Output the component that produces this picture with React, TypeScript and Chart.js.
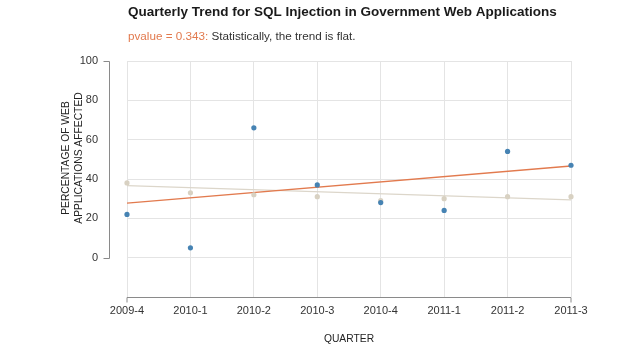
import React, { useEffect, useRef } from "react";
import { Chart, registerables } from "chart.js";

Chart.register(...registerables);

const quarters = ["2009-4", "2010-1", "2010-2", "2010-3", "2010-4", "2011-1", "2011-2", "2011-3"];
const governmentValues = [22, 5, 66, 37, 28, 24, 54, 47];
const overallValues = [38, 33, 32, 31, 29, 30, 31, 31];
const governmentTrend = [27.7, null, null, null, null, null, null, 46.6];
const overallTrend = [36.6, null, null, null, null, null, null, 29.4];
const yMin = -20;
const yMax = 100;
const yStep = 20;

const titleText = "Quarterly Trend for SQL Injection in Government Web Applications";
const pvalueText = "pvalue = 0.343:";
const subtitleText = " Statistically, the trend is flat.";
const yTitleLines = ["PERCENTAGE OF WEB", "APPLICATIONS AFFECTED"];
const xTitle = "QUARTER";

const FONT = "'Liberation Sans', Arial, Helvetica, sans-serif";
const BLUE = "#4683b3";
const BEIGE = "#d8d1c2";
const ORANGE = "#e27a4e";
const BEIGE_LINE = "#dcd6ca";
const AXIS = "#8a8a8a";
const GRID = "#e4e4e4";

const decor = {
  id: "decor",
  afterDraw(chart: any) {
    const ctx = chart.ctx;
    const { left, right, bottom } = chart.chartArea;
    const ys = chart.scales.y;
    ctx.save();
    // title
    ctx.fillStyle = "#1a1a1a";
    ctx.font = `bold 13.5px ${FONT}`;
    ctx.textBaseline = "middle";
    ctx.textAlign = "left";
    ctx.fillText(titleText, 128, 12);
    // subtitle
    ctx.font = `11.7px ${FONT}`;
    ctx.fillStyle = ORANGE;
    ctx.fillText(pvalueText, 128, 37);
    const w = ctx.measureText(pvalueText).width;
    ctx.fillStyle = "#333";
    ctx.fillText(subtitleText, 128 + w, 37);

    // y bracket axis
    ctx.strokeStyle = AXIS;
    ctx.lineWidth = 1;
    const y0 = Math.round(ys.getPixelForValue(0)) + 0.5;
    const y100 = Math.round(ys.getPixelForValue(100)) + 0.5;
    const ax = 109.5;
    ctx.beginPath();
    ctx.moveTo(ax - 6, y100);
    ctx.lineTo(ax, y100);
    ctx.lineTo(ax, y0);
    ctx.lineTo(ax - 6, y0);
    ctx.stroke();

    // x axis
    const xb = Math.round(bottom) + 0.5;
    ctx.beginPath();
    ctx.moveTo(left, xb + 5);
    ctx.lineTo(left, xb);
    ctx.lineTo(right, xb);
    ctx.lineTo(right, xb + 5);
    ctx.stroke();

    // axis titles
    ctx.fillStyle = "#222";
    ctx.font = `10.3px ${FONT}`;
    ctx.textAlign = "center";
    ctx.fillText(xTitle, (left + right) / 2, 339);

    ctx.save();
    ctx.translate(73, 158);
    ctx.rotate(-Math.PI / 2);
    ctx.fillText(yTitleLines[0], 0, -6.5);
    ctx.fillText(yTitleLines[1], 0, 6.5);
    ctx.restore();

    ctx.restore();
  },
};

export default function App() {
  const ref = useRef<HTMLCanvasElement | null>(null);
  useEffect(() => {
    if (!ref.current) return;
    const chart = new Chart(ref.current, {
      type: "line",
      data: {
        labels: quarters,
        datasets: [
          {
            label: "Government",
            data: governmentValues,
            showLine: false,
            pointRadius: 2.6,
            pointBackgroundColor: BLUE,
            pointBorderColor: BLUE,
            pointBorderWidth: 0,
          },
          {
            label: "All",
            data: overallValues,
            showLine: false,
            pointRadius: 2.6,
            pointBackgroundColor: BEIGE,
            pointBorderColor: BEIGE,
            pointBorderWidth: 0,
          },
          {
            label: "Government trend",
            data: governmentTrend,
            spanGaps: true,
            borderColor: ORANGE,
            borderWidth: 1.3,
            pointRadius: 0,
          },
          {
            label: "All trend",
            data: overallTrend,
            spanGaps: true,
            borderColor: BEIGE_LINE,
            borderWidth: 1.3,
            pointRadius: 0,
          },
        ],
      },
      options: {
        animation: false,
        responsive: false,
        maintainAspectRatio: false,
        layout: { padding: { left: 0, right: 69, top: 61, bottom: 0 } },
        plugins: { legend: { display: false }, tooltip: { enabled: false }, title: { display: false } },
        scales: {
          x: {
            offset: false,
            border: { display: false },
            grid: { color: GRID, drawTicks: false },
            ticks: { color: "#333", font: { size: 11, family: FONT }, padding: 7, maxRotation: 0, autoSkip: false },
            afterFit: (s: any) => {
              s.height = 53;
            },
          },
          y: {
            min: yMin,
            max: yMax,
            border: { display: false },
            grid: {
              color: (c: any) => (c.tick && c.tick.value < 0 ? "rgba(0,0,0,0)" : GRID),
              drawTicks: false,
            },
            ticks: {
              stepSize: yStep,
              color: "#333",
              font: { size: 11, family: FONT },
              padding: 29,
              callback: (v: any) => (Number(v) < 0 ? "" : String(v)),
            },
            afterFit: (s: any) => {
              s.width = 127;
            },
          },
        },
      },
      plugins: [decor],
    });
    return () => chart.destroy();
  }, []);
  return (
    <div style={{ position: "absolute", left: 0, top: 0, width: 640, height: 350, background: "#fff" }}>
      <canvas ref={ref} width={640} height={350} style={{ width: 640, height: 350, display: "block" }} />
    </div>
  );
}
